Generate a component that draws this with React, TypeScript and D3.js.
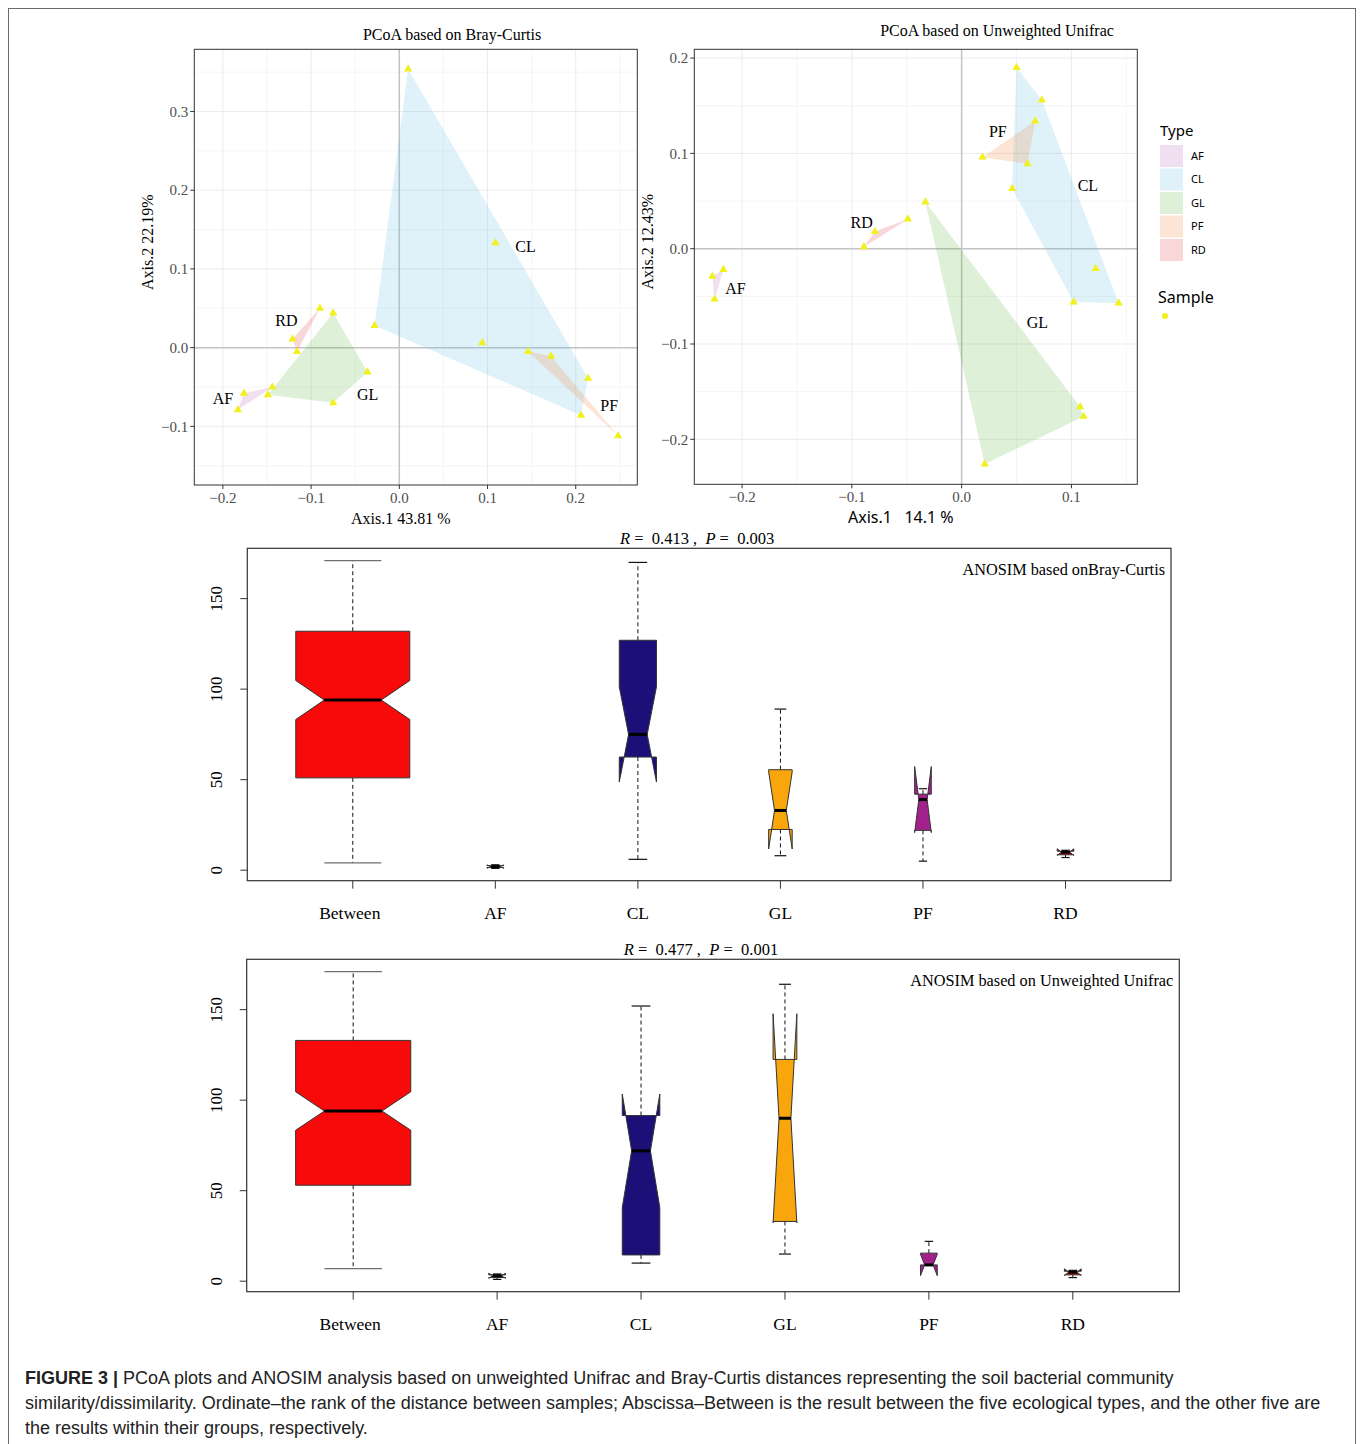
import React from 'react'
import * as d3 from 'd3'

// ---- data ----
const groups = ['AF', 'CL', 'GL', 'PF', 'RD']

// PCoA on Bray-Curtis: [group, Axis.1, Axis.2]
const brayPts: [string, number, number][] = [
  ['CL', 0.010, 0.354], ['CL', 0.109, 0.133], ['CL', -0.028, 0.028],
  ['CL', 0.094, 0.006], ['CL', 0.206, -0.086], ['CL', 0.214, -0.039],
  ['PF', 0.146, -0.005], ['PF', 0.172, -0.011], ['PF', 0.248, -0.112],
  ['GL', -0.075, 0.044], ['GL', -0.036, -0.031], ['GL', -0.075, -0.070], ['GL', -0.149, -0.060],
  ['AF', -0.144, -0.050], ['AF', -0.176, -0.058], ['AF', -0.183, -0.079],
  ['RD', -0.090, 0.050], ['RD', -0.121, 0.011], ['RD', -0.116, -0.005],
]
const brayLabels: [string, number, number][] = [
  ['CL', 0.143, 0.129], ['RD', -0.128, 0.034], ['AF', -0.200, -0.064],
  ['GL', -0.036, -0.059], ['PF', 0.238, -0.074],
]

// PCoA on unweighted Unifrac
const unifracPts: [string, number, number][] = [
  ['CL', 0.050, 0.190], ['CL', 0.073, 0.156], ['CL', 0.046, 0.063],
  ['CL', 0.102, -0.056], ['CL', 0.143, -0.057], ['CL', 0.122, -0.021],
  ['PF', 0.019, 0.096], ['PF', 0.067, 0.134], ['PF', 0.060, 0.089],
  ['GL', -0.033, 0.049], ['GL', 0.021, -0.226], ['GL', 0.108, -0.166], ['GL', 0.111, -0.176],
  ['RD', -0.089, 0.002], ['RD', -0.079, 0.018], ['RD', -0.049, 0.031],
  ['AF', -0.227, -0.029], ['AF', -0.217, -0.022], ['AF', -0.225, -0.053],
]
const unifracLabels: [string, number, number][] = [
  ['PF', 0.033, 0.123], ['CL', 0.115, 0.066], ['RD', -0.091, 0.028],
  ['AF', -0.206, -0.042], ['GL', 0.069, -0.077],
]

const brayXTicks = [-0.2, -0.1, 0, 0.1, 0.2]
const brayYTicks = [-0.1, 0, 0.1, 0.2, 0.3]
const unifracXTicks = [-0.2, -0.1, 0, 0.1]
const unifracYTicks = [-0.2, -0.1, 0, 0.1, 0.2]

// ANOSIM box stats
const boxCats = ['Between', 'AF', 'CL', 'GL', 'PF', 'RD']
const boxN = [141, 3, 15, 6, 3, 3]
const brayMin = [4, 1, 6, 8, 5, 7]
const brayQ1 = [51, 1.5, 62.5, 22.5, 22, 8.5]
const brayMed = [94, 2, 75, 33, 39, 10]
const brayQ3 = [132, 2.5, 127, 55.5, 42, 10.5]
const brayMax = [171, 3, 170, 89, 45, 11]
const uniMin = [7, 1, 10, 15, 9, 2]
const uniQ1 = [53, 2, 14.5, 33, 9, 3.5]
const uniMed = [94, 3, 72, 90, 9, 5]
const uniQ3 = [133, 3.5, 91.5, 122.5, 15.5, 5.5]
const uniMax = [171, 4, 152, 164, 22, 6]
const rValues = [0.413, 0.477]
const pValues = [0.003, 0.001]
const boxTicks = [0, 50, 100, 150]

// ---- styles ----
const typeFill = ['#b45fb4', '#5fbee6', '#5fb43c', '#f57d32', '#e1323c']
const boxFill = ['#f90a0a', '#000000', '#1c1078', '#f9a60c', '#a2218c', '#b00000']
const SERIF = "'Liberation Serif', 'DejaVu Serif', serif"
const SANS = "'Noto Sans', 'Open Sans', sans-serif"
const fmt = d3.format('.1f')

type PcoaProps = {
  x0: number; y0: number; w: number; h: number
  xDom: number[]; yDom: number[]; xTicks: number[]; yTicks: number[]
  pts: [string, number, number][]; labels: [string, number, number][]
  title: string; titleX: number; titleY: number
  xTitle: string; xTitleFont: string; yTitle: string
}

function minors(ticks: number[], dom: number[]) {
  const step = ticks[1] - ticks[0]
  const out = ticks.map(t => t - step / 2).concat([ticks[ticks.length - 1] + step / 2])
  return out.filter(v => v > dom[0] && v < dom[1])
}

function Pcoa(p: PcoaProps) {
  const x = d3.scaleLinear().domain(p.xDom).range([p.x0, p.x0 + p.w])
  const y = d3.scaleLinear().domain(p.yDom).range([p.y0 + p.h, p.y0])
  const tri = d3.symbol().type(d3.symbolTriangle).size(30)()
  const hulls = groups.map((g, i) => {
    const pts = p.pts.filter(d => d[0] === g).map(d => [x(d[1]), y(d[2])] as [number, number])
    const hull = d3.polygonHull(pts) || pts
    return { g, i, hull }
  })
  return (
    <g>
      <text x={p.titleX} y={p.titleY} textAnchor="middle" fontFamily={SERIF} fontSize={16}>{p.title}</text>
      <rect x={p.x0} y={p.y0} width={p.w} height={p.h} fill="#fff" />
      {minors(p.xTicks, p.xDom).map(v => <line key={'mx' + v} x1={x(v)} x2={x(v)} y1={p.y0} y2={p.y0 + p.h} stroke="#f3f3f3" strokeWidth={0.8} />)}
      {minors(p.yTicks, p.yDom).map(v => <line key={'my' + v} y1={y(v)} y2={y(v)} x1={p.x0} x2={p.x0 + p.w} stroke="#f3f3f3" strokeWidth={0.8} />)}
      {p.xTicks.map(v => <line key={'gx' + v} x1={x(v)} x2={x(v)} y1={p.y0} y2={p.y0 + p.h} stroke="#ebebeb" strokeWidth={1} />)}
      {p.yTicks.map(v => <line key={'gy' + v} y1={y(v)} y2={y(v)} x1={p.x0} x2={p.x0 + p.w} stroke="#ebebeb" strokeWidth={1} />)}
      <line x1={x(0)} x2={x(0)} y1={p.y0} y2={p.y0 + p.h} stroke="#c4c4c4" strokeWidth={1.5} />
      <line y1={y(0)} y2={y(0)} x1={p.x0} x2={p.x0 + p.w} stroke="#c4c4c4" strokeWidth={1.5} />
      {hulls.map(h => (
        <polygon key={h.g} points={h.hull.map(q => q.join(',')).join(' ')} fill={typeFill[h.i]} fillOpacity={0.2} />
      ))}
      {p.pts.map((d, i) => (
        <path key={i} d={tri || ''} transform={`translate(${x(d[1])},${y(d[2])})`} fill="#f2f01e" />
      ))}
      {p.labels.map(l => (
        <text key={l[0]} x={x(l[1])} y={y(l[2])} dy="0.35em" textAnchor="middle" fontFamily={SERIF} fontSize={16}>{l[0]}</text>
      ))}
      <rect x={p.x0} y={p.y0} width={p.w} height={p.h} fill="none" stroke="#333" strokeWidth={1} />
      {p.xTicks.map(v => (
        <g key={'tx' + v}>
          <line x1={x(v)} x2={x(v)} y1={p.y0 + p.h} y2={p.y0 + p.h + 4} stroke="#333" />
          <text x={x(v)} y={p.y0 + p.h + 18} textAnchor="middle" fontFamily={SERIF} fontSize={15} fill="#4d4d4d">{fmt(v)}</text>
        </g>
      ))}
      {p.yTicks.map(v => (
        <g key={'ty' + v}>
          <line x1={p.x0 - 4} x2={p.x0} y1={y(v)} y2={y(v)} stroke="#333" />
          <text x={p.x0 - 6} y={y(v)} dy="0.35em" textAnchor="end" fontFamily={SERIF} fontSize={15} fill="#4d4d4d">{fmt(v)}</text>
        </g>
      ))}
      <text x={p.x0 + p.w / 2 - 15} y={p.y0 + p.h + 39} textAnchor="middle" fontFamily={p.xTitleFont} fontSize={16} style={{ whiteSpace: 'pre' }}>{p.xTitle}</text>
      <text transform={`translate(${p.x0 - 41},${p.y0 + p.h / 2 - 25}) rotate(-90)`} textAnchor="middle" fontFamily={SERIF} fontSize={16}>{p.yTitle}</text>
    </g>
  )
}

type BoxProps = {
  x0: number; y0: number; w: number; h: number
  mins: number[]; q1: number[]; med: number[]; q3: number[]; maxs: number[]
  r: number; pv: number; title: string
}

function AnosimBox(p: BoxProps) {
  const lo = d3.min(p.mins) as number
  const hi = d3.max(p.maxs) as number
  const pad = (hi - lo) * 0.04
  const y = d3.scaleLinear().domain([lo - pad, hi + pad]).range([p.y0 + p.h, p.y0])
  const n = boxCats.length
  const ext = n * 0.04
  const x = d3.scaleLinear().domain([0.5 - ext, n + 0.5 + ext]).range([p.x0, p.x0 + p.w])
  const nMax = d3.max(boxN) as number
  return (
    <g>
      <text x={p.x0 + p.w / 2 - 12} y={p.y0 - 4} textAnchor="middle" fontFamily={SERIF} fontSize={16.5} style={{ whiteSpace: 'pre' }}>
        <tspan fontStyle="italic">R</tspan>{' =  ' + p.r.toFixed(3) + ' ,  '}<tspan fontStyle="italic">P</tspan>{' =  ' + p.pv.toFixed(3)}
      </text>
      <rect x={p.x0} y={p.y0} width={p.w} height={p.h} fill="#fff" stroke="#333" strokeWidth={1.2} />
      <text x={p.x0 + p.w - 6} y={p.y0 + 27} textAnchor="end" fontFamily={SERIF} fontSize={16.3}>{p.title}</text>
      {boxCats.map((c, i) => {
        const cx = x(i + 1)
        const wd = x(0.4 * Math.sqrt(boxN[i] / nMax)) - x(0)
        const iqr = p.q3[i] - p.q1[i]
        const nlo = p.med[i] - 1.58 * iqr / Math.sqrt(boxN[i])
        const nhi = p.med[i] + 1.58 * iqr / Math.sqrt(boxN[i])
        const poly: [number, number][] = [
          [cx - wd, p.q1[i]], [cx + wd, p.q1[i]], [cx + wd, nlo], [cx + wd / 2, p.med[i]],
          [cx + wd, nhi], [cx + wd, p.q3[i]], [cx - wd, p.q3[i]], [cx - wd, nhi],
          [cx - wd / 2, p.med[i]], [cx - wd, nlo],
        ]
        const capCol = i === 0 ? '#707070' : '#111'
        return (
          <g key={c}>
            <line x1={cx} x2={cx} y1={y(p.q3[i])} y2={y(p.maxs[i])} stroke="#111" strokeDasharray="4,3" />
            <line x1={cx} x2={cx} y1={y(p.q1[i])} y2={y(p.mins[i])} stroke="#111" strokeDasharray="4,3" />
            <line x1={cx - wd / 2} x2={cx + wd / 2} y1={y(p.maxs[i])} y2={y(p.maxs[i])} stroke={capCol} strokeWidth={1.2} />
            <line x1={cx - wd / 2} x2={cx + wd / 2} y1={y(p.mins[i])} y2={y(p.mins[i])} stroke={capCol} strokeWidth={1.2} />
            <polygon points={poly.map(q => q[0] + ',' + y(q[1])).join(' ')} fill={boxFill[i]} stroke="#333" strokeWidth={1} />
            <line x1={cx - wd / 2} x2={cx + wd / 2} y1={y(p.med[i])} y2={y(p.med[i])} stroke="#000" strokeWidth={3} />
            <line x1={cx} x2={cx} y1={p.y0 + p.h} y2={p.y0 + p.h + 8} stroke="#333" />
            <text x={i === 0 ? cx - 3 : cx} y={p.y0 + p.h + 38} textAnchor="middle" fontFamily={SERIF} fontSize={17.5}>{c}</text>
          </g>
        )
      })}
      {boxTicks.map(v => (
        <g key={v}>
          <line x1={p.x0 - 7} x2={p.x0} y1={y(v)} y2={y(v)} stroke="#333" />
          <text transform={`translate(${p.x0 - 31},${y(v)}) rotate(-90)`} textAnchor="middle" dy="0.35em" fontFamily={SERIF} fontSize={17}>{v}</text>
        </g>
      ))}
    </g>
  )
}

function Legend() {
  return (
    <g fontFamily={SANS}>
      <text x={1160} y={136} fontSize={15}>Type</text>
      {groups.map((g, i) => (
        <g key={g}>
          <rect x={1160} y={145 + i * 23.5} width={23} height={22} fill={typeFill[i]} fillOpacity={0.2} />
          <text x={1191} y={156 + i * 23.5} dy="0.35em" fontSize={11}>{g}</text>
        </g>
      ))}
      <text x={1158} y={303} fontSize={16}>Sample</text>
      <circle cx={1165} cy={316} r={3} fill="#f2f01e" />
    </g>
  )
}

function Caption() {
  const f = "'Liberation Sans', Arial, sans-serif"
  return (
    <g fontFamily={f} fontSize={18} fill="#222">
      <text x={25} y={1384}><tspan fontWeight="bold">FIGURE 3 |</tspan> PCoA plots and ANOSIM analysis based on unweighted Unifrac and Bray-Curtis distances representing the soil bacterial community</text>
      <text x={25} y={1409}>similarity/dissimilarity. Ordinate–the rank of the distance between samples; Abscissa–Between is the result between the five ecological types, and the other five are</text>
      <text x={25} y={1434}>the results within their groups, respectively.</text>
    </g>
  )
}

export default function App() {
  return (
    <svg width={1360} height={1444} style={{ position: 'absolute', left: 0, top: 0, background: '#fff' }}>
      <rect x={0} y={0} width={1360} height={1444} fill="#fff" />
      <rect x={8.5} y={8.5} width={1347} height={1470} fill="none" stroke="#6a6a6a" strokeWidth={1} />
      <Pcoa x0={194.3} y0={49.3} w={443} h={435.7}
        xDom={[-0.2324, 0.2698]} yDom={[-0.1745, 0.379]}
        xTicks={brayXTicks} yTicks={brayYTicks} pts={brayPts} labels={brayLabels}
        title="PCoA based on Bray-Curtis" titleX={452} titleY={40}
        xTitle="Axis.1 43.81 %" xTitleFont={SERIF} yTitle="Axis.2 22.19%" />
      <Pcoa x0={694.3} y0={49.3} w={443} h={435}
        xDom={[-0.2435, 0.160]} yDom={[-0.2472, 0.2092]}
        xTicks={unifracXTicks} yTicks={unifracYTicks} pts={unifracPts} labels={unifracLabels}
        title="PCoA based on Unweighted Unifrac" titleX={997} titleY={36}
        xTitle="Axis.1   14.1 %" xTitleFont={SANS} yTitle="Axis.2 12.43%" />
      <Legend />
      <AnosimBox x0={247.3} y0={548.3} w={923.7} h={332.4}
        mins={brayMin} q1={brayQ1} med={brayMed} q3={brayQ3} maxs={brayMax}
        r={rValues[0]} pv={pValues[0]} title="ANOSIM based onBray-Curtis" />
      <AnosimBox x0={246.7} y0={959.3} w={932.6} h={332.4}
        mins={uniMin} q1={uniQ1} med={uniMed} q3={uniQ3} maxs={uniMax}
        r={rValues[1]} pv={pValues[1]} title="ANOSIM based on Unweighted Unifrac" />
      <Caption />
    </svg>
  )
}
